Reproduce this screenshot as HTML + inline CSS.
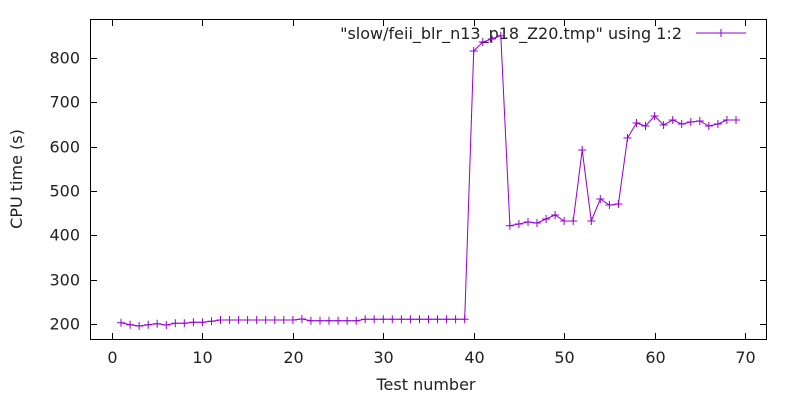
<!DOCTYPE html>
<html><head><style>body{margin:0;background:#fff}svg{display:block}text{font-family:"DejaVu Sans","Liberation Sans",sans-serif;font-size:16px;fill:#222}</style></head>
<body>
<svg id="s" width="800" height="400" xmlns="http://www.w3.org/2000/svg">
<rect x="90.5" y="19.5" width="676" height="320" fill="none" stroke="#000" stroke-width="1"/>
<g id="ticks" stroke="#000" stroke-width="1"></g>
<g id="labels"></g>
<text x="22" y="179" text-anchor="middle" transform="rotate(-90 22 179)">CPU time (s)</text>
<text x="426" y="390" text-anchor="middle">Test number</text>
<text x="682" y="39" text-anchor="end">"slow/feii_blr_n13_p18_Z20.tmp" using 1:2</text>
<line x1="696" y1="33" x2="746" y2="33" stroke="#9400d3" stroke-width="1"/>
<path d="M721 29v8M717 33h8" stroke="#9400d3" stroke-width="1"/>
<polyline id="pl" fill="none" stroke="#9400d3" stroke-width="1"/>
<path id="pts" stroke="#9400d3" stroke-width="1" fill="none"/>
</svg>
<script>
var ys={1:322.7,2:324.7,3:326,4:324.7,5:323.7,6:325,7:323.3,8:323.3,9:322.3,10:322.3,11:321.3,21:319,40:51,41:42,42:39,43:35.7,44:225.7,45:224,46:222,47:223,48:219,49:215,50:221,51:221,52:150,53:221,54:199,55:205,56:204,57:138,58:123,59:126,60:116,61:125,62:120,63:124,64:122,65:121,66:126,67:124,68:120,69:120};
for(var i=12;i<=20;i++)ys[i]=320;for(i=22;i<=27;i++)ys[i]=320.7;for(i=28;i<=39;i++)ys[i]=319.3;
var S=9.043,pts=[],d="";
for(i=1;i<=69;i++){var x=112+i*S,y=ys[i];pts.push(x.toFixed(1)+","+y);d+="M"+(x-4).toFixed(1)+" "+y+"h8M"+x.toFixed(1)+" "+(y-4)+"v8";}
document.getElementById("pl").setAttribute("points",pts.join(" "));
document.getElementById("pts").setAttribute("d",d);
var t="",l="";
for(var v=200;v<=800;v+=100){var y=324-(v-200)*0.44333;y=Math.round(y)+0.5;t+='<line x1="90.5" y1="'+y+'" x2="97" y2="'+y+'"/><line x1="766.5" y1="'+y+'" x2="760" y2="'+y+'"/>';l+='<text x="80" y="'+(y+5)+'" text-anchor="end">'+v+'</text>';}
for(v=0;v<=70;v+=10){var x=Math.round(112+v*S)+0.5;t+='<line x1="'+x+'" y1="339.5" x2="'+x+'" y2="333"/><line x1="'+x+'" y1="19.5" x2="'+x+'" y2="26"/>';l+='<text x="'+x+'" y="363" text-anchor="middle">'+v+'</text>';}
document.getElementById("ticks").innerHTML=t;document.getElementById("labels").innerHTML=l;
</script>
</body></html>
